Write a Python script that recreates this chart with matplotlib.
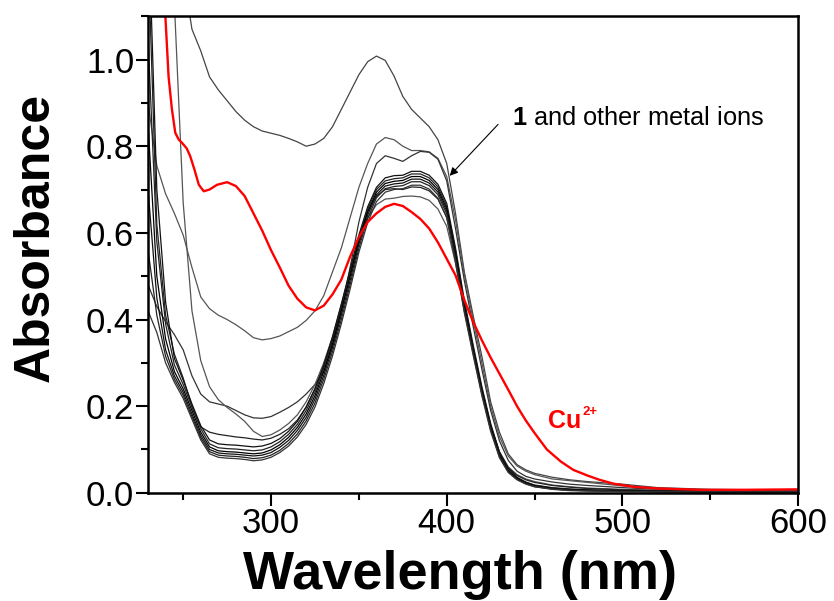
import matplotlib
matplotlib.use("Agg")
import matplotlib.pyplot as plt
from matplotlib.ticker import MultipleLocator, FormatStrFormatter

plt.rcParams["font.family"] = ["Liberation Sans", "DejaVu Sans"]
plt.rcParams["mathtext.fontset"] = "custom"
plt.rcParams["mathtext.rm"] = "Liberation Sans"
plt.rcParams["mathtext.bf"] = "Liberation Sans:bold"

# wavelength grid (nm) shared by the black spectra
wl = [230, 235, 240, 245, 250, 255, 260, 265, 270, 275, 280, 285, 290, 295,
      300, 305, 310, 315, 320, 325, 330, 335, 340, 345, 350, 355, 360, 365,
      370, 375, 380, 385, 390, 395, 400, 405, 410, 415, 420, 425, 430, 435,
      440, 445, 450, 460, 470, 480, 500, 520, 550, 600]

# 1 + Cu2+ (own, denser wavelength list)
cu_wl = [236, 238, 240, 241.7, 243.6, 245.5, 247.5, 249.3, 252, 254, 256.5, 258.9, 261.7, 265,
         269.3, 275, 280, 285, 290, 295, 300, 305, 310, 315, 320, 325, 330, 335, 340, 345,
         350, 355, 360, 365, 370, 375, 380, 385, 390, 395, 400, 405, 410, 415, 420, 425,
         430, 435, 440, 445, 450, 457, 465, 472, 480, 487, 495, 506, 520, 544, 570, 600]
cu = [1.50, 1.25, 1.09, 0.96, 0.885, 0.831, 0.815, 0.808, 0.795, 0.777, 0.745, 0.711, 0.696, 0.70,
      0.711, 0.717, 0.708, 0.685, 0.645, 0.605, 0.56, 0.52, 0.478, 0.448, 0.428, 0.421, 0.432, 0.458,
      0.492, 0.545, 0.59, 0.625, 0.645, 0.66, 0.667, 0.662, 0.648, 0.632, 0.61, 0.578, 0.54, 0.502,
      0.445, 0.395, 0.352, 0.312, 0.275, 0.238, 0.2, 0.167, 0.138, 0.10, 0.072, 0.053, 0.04, 0.03,
      0.021, 0.014, 0.01, 0.007, 0.007, 0.008]

# 1 and the other metal ions
ion_a = [2.0, 1.8, 1.6, 1.4, 1.2, 1.07, 1.02, 0.96, 0.93, 0.905, 0.88, 0.86, 0.845, 0.835,
         0.83, 0.825, 0.818, 0.81, 0.80, 0.805, 0.818, 0.845, 0.885, 0.925, 0.965, 0.995, 1.008, 0.998,
         0.962, 0.915, 0.885, 0.865, 0.845, 0.815, 0.76, 0.645, 0.51, 0.41, 0.315, 0.21, 0.14, 0.09,
         0.065, 0.053, 0.045, 0.036, 0.03, 0.026, 0.02, 0.012, 0.008, 0.006]
ion_b = [0.90, 0.755, 0.69, 0.645, 0.595, 0.52, 0.452, 0.425, 0.41, 0.40, 0.388, 0.374, 0.358, 0.353,
         0.356, 0.362, 0.372, 0.382, 0.398, 0.42, 0.455, 0.51, 0.565, 0.635, 0.705, 0.76, 0.805, 0.82,
         0.815, 0.80, 0.79, 0.79, 0.787, 0.772, 0.73, 0.63, 0.505, 0.40, 0.30, 0.20, 0.13, 0.085,
         0.062, 0.05, 0.042, 0.032, 0.028, 0.024, 0.016, 0.01, 0.006, 0.004]
ion_c = [0.48, 0.43, 0.395, 0.365, 0.33, 0.27, 0.228, 0.21, 0.205, 0.20, 0.19, 0.18, 0.173, 0.172,
         0.176, 0.186, 0.197, 0.21, 0.228, 0.25, 0.28, 0.34, 0.42, 0.52, 0.625, 0.705, 0.76, 0.778,
         0.772, 0.765, 0.778, 0.788, 0.786, 0.77, 0.72, 0.61, 0.49, 0.385, 0.285, 0.19, 0.12, 0.075,
         0.05, 0.038, 0.032, 0.025, 0.02, 0.017, 0.012, 0.008, 0.005, 0.004]
ion_d = [2.6, 2.2, 1.65, 1.13, 0.67, 0.42, 0.305, 0.245, 0.215, 0.197, 0.182, 0.165, 0.142, 0.13,
         0.134, 0.145, 0.16, 0.18, 0.21, 0.25, 0.30, 0.36, 0.435, 0.51, 0.58, 0.635, 0.665, 0.678,
         0.68, 0.684, 0.685, 0.683, 0.675, 0.655, 0.615, 0.53, 0.42, 0.325, 0.235, 0.155, 0.095, 0.06,
         0.042, 0.032, 0.026, 0.018, 0.014, 0.011, 0.008, 0.006, 0.004, 0.003]
ion_e = [1.25, 0.62, 0.41, 0.32, 0.265, 0.20, 0.152, 0.14, 0.135, 0.132, 0.129, 0.127, 0.124, 0.122,
         0.126, 0.135, 0.148, 0.168, 0.198, 0.24, 0.292, 0.355, 0.43, 0.51, 0.59, 0.65, 0.685, 0.70,
         0.702, 0.70, 0.706, 0.705, 0.697, 0.678, 0.635, 0.54, 0.425, 0.33, 0.238, 0.155, 0.093, 0.058,
         0.04, 0.03, 0.024, 0.017, 0.013, 0.01, 0.007, 0.005, 0.004, 0.003]
ion_f = [1.35, 0.70, 0.44, 0.31, 0.26, 0.205, 0.155, 0.122, 0.113, 0.111, 0.11, 0.108, 0.106, 0.108,
         0.114, 0.125, 0.142, 0.165, 0.198, 0.24, 0.295, 0.36, 0.435, 0.515, 0.595, 0.66, 0.705, 0.727,
         0.732, 0.733, 0.742, 0.742, 0.733, 0.712, 0.668, 0.565, 0.445, 0.342, 0.245, 0.16, 0.094, 0.056,
         0.036, 0.025, 0.018, 0.012, 0.009, 0.007, 0.005, 0.004, 0.003, 0.003]
ion_g = [1.05, 0.58, 0.39, 0.295, 0.25, 0.198, 0.148, 0.113, 0.104, 0.102, 0.101, 0.099, 0.097, 0.099,
         0.106, 0.118, 0.135, 0.158, 0.19, 0.232, 0.288, 0.352, 0.427, 0.507, 0.59, 0.655, 0.70, 0.72,
         0.725, 0.727, 0.736, 0.736, 0.727, 0.706, 0.662, 0.558, 0.438, 0.336, 0.24, 0.155, 0.09, 0.053,
         0.034, 0.024, 0.017, 0.011, 0.008, 0.006, 0.005, 0.004, 0.003, 0.003]
ion_h = [0.85, 0.50, 0.355, 0.28, 0.24, 0.19, 0.14, 0.106, 0.097, 0.095, 0.094, 0.092, 0.09, 0.092,
         0.099, 0.111, 0.128, 0.151, 0.182, 0.224, 0.28, 0.344, 0.419, 0.499, 0.582, 0.648, 0.694, 0.714,
         0.719, 0.721, 0.73, 0.73, 0.721, 0.70, 0.656, 0.552, 0.432, 0.331, 0.236, 0.151, 0.087, 0.051,
         0.033, 0.023, 0.016, 0.01, 0.007, 0.006, 0.004, 0.003, 0.003, 0.002]
ion_i = [0.70, 0.45, 0.33, 0.27, 0.232, 0.182, 0.133, 0.10, 0.092, 0.09, 0.089, 0.087, 0.085, 0.087,
         0.093, 0.105, 0.121, 0.144, 0.174, 0.216, 0.271, 0.335, 0.41, 0.49, 0.574, 0.641, 0.688, 0.708,
         0.713, 0.715, 0.724, 0.724, 0.715, 0.694, 0.65, 0.546, 0.427, 0.327, 0.232, 0.148, 0.085, 0.05,
         0.032, 0.022, 0.015, 0.009, 0.006, 0.005, 0.004, 0.003, 0.002, 0.002]
ion_j = [0.56, 0.41, 0.315, 0.262, 0.225, 0.176, 0.127, 0.095, 0.087, 0.085, 0.084, 0.082, 0.079, 0.081,
         0.087, 0.098, 0.114, 0.136, 0.166, 0.207, 0.262, 0.326, 0.40, 0.48, 0.565, 0.633, 0.681, 0.702,
         0.707, 0.709, 0.718, 0.718, 0.709, 0.688, 0.644, 0.54, 0.422, 0.323, 0.228, 0.145, 0.083, 0.048,
         0.031, 0.021, 0.014, 0.009, 0.006, 0.005, 0.003, 0.003, 0.002, 0.002]
ion_k = [0.42, 0.37, 0.30, 0.255, 0.218, 0.17, 0.122, 0.09, 0.082, 0.08, 0.079, 0.077, 0.074, 0.076,
         0.082, 0.093, 0.108, 0.129, 0.158, 0.198, 0.252, 0.316, 0.39, 0.47, 0.555, 0.624, 0.672, 0.694,
         0.70, 0.702, 0.71, 0.71, 0.701, 0.68, 0.636, 0.532, 0.416, 0.318, 0.224, 0.142, 0.081, 0.047,
         0.03, 0.02, 0.014, 0.008, 0.005, 0.004, 0.003, 0.002, 0.002, 0.002]

others = [ion_a, ion_b, ion_c, ion_d, ion_e, ion_f, ion_g, ion_h, ion_i, ion_j, ion_k]
greys = ["#444444", "#555555", "#333333", "#555555", "#222222", "#111111",
         "#222222", "#000000", "#111111", "#222222", "#333333"]

fig, ax = plt.subplots(figsize=(8.34, 6.01), dpi=100)
fig.subplots_adjust(left=0.1775, right=0.957, top=0.973, bottom=0.18)

for spec, col in zip(others, greys):
    ax.plot(wl, spec, color=col, lw=0.9, solid_joinstyle="round")
ax.plot(cu_wl, cu, color="#ff0000", lw=1.7, solid_joinstyle="round")

ax.set_xlim(230, 600)
ax.set_ylim(0, 1.1)
ax.xaxis.set_major_locator(MultipleLocator(100))
ax.xaxis.set_minor_locator(MultipleLocator(50))
ax.yaxis.set_major_locator(MultipleLocator(0.2))
ax.yaxis.set_minor_locator(MultipleLocator(0.1))
ax.yaxis.set_major_formatter(FormatStrFormatter("%.1f"))
ax.tick_params(which="major", direction="out", length=9, width=1.5, labelsize=25, pad=1)
ax.tick_params(which="minor", direction="out", length=5, width=1.5)
for s in ax.spines.values():
    s.set_linewidth(1.8)

ax.set_xlabel("Wavelength (nm)", fontsize=39, fontweight="bold")
ax.xaxis.set_label_coords(0.48, -0.12)
ax.set_ylabel("Absorbance", fontsize=36, fontweight="bold")
ax.yaxis.set_label_coords(-0.137, 0.535)

ax.annotate("", xy=(400.6, 0.727), xytext=(430.3, 0.855),
            arrowprops=dict(arrowstyle="-|>", color="black", lw=0.8, mutation_scale=12))
ax.text(437, 0.866, r"$\mathbf{1}$ and other metal ions", fontsize=18.3, va="center", ha="left")
ax.text(457.7, 0.166, "Cu", color="#ff0000", fontsize=18, fontweight="bold",
        va="center", ha="left")
ax.text(477.4, 0.186, "2+", color="#ff0000", fontsize=9.5, fontweight="bold",
        va="center", ha="left")

fig.savefig("out.png", dpi=100)
